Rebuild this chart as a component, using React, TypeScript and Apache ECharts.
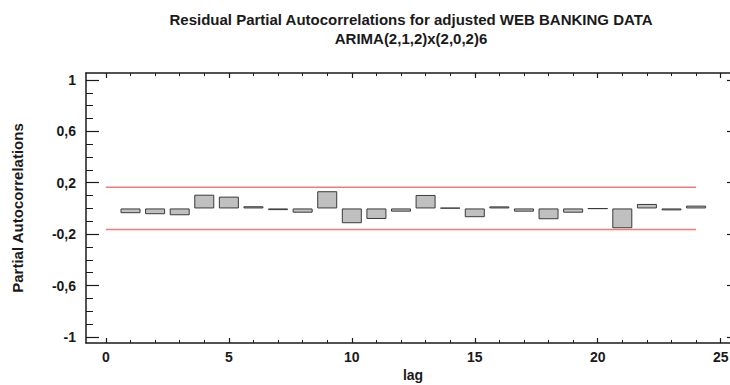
import React, { useEffect, useRef } from "react";
import * as echarts from "echarts";

const lags = [1, 2, 3, 4, 5, 6, 7, 8, 9, 10, 11, 12, 13, 14, 15, 16, 17, 18, 19, 20, 21, 22, 23, 24];
const pacf = [
  -0.037, -0.045, -0.053, 0.107, 0.092, 0.017, -0.013, -0.033, 0.134, -0.115, -0.082, -0.025,
  0.105, 0.005, -0.068, 0.016, -0.025, -0.084, -0.033, -0.002, -0.154, 0.035, -0.015, 0.022,
];
const upperLimit = 0.164;
const lowerLimit = -0.164;
const limitRange = [0, 24];
const xMajorTicks = [0, 5, 10, 15, 20, 25];
const xMinorTicks = [1, 2, 3, 4, 6, 7, 8, 9, 11, 12, 13, 14, 16, 17, 18, 19, 21, 22, 23, 24];
const yMajorTicks = [-1, -0.6, -0.2, 0.2, 0.6, 1];
const yMinorTicks = [-0.9, -0.8, -0.7, -0.5, -0.4, -0.3, -0.1, 0, 0.1, 0.3, 0.4, 0.5, 0.7, 0.8, 0.9];
const titleLines = ["Residual Partial Autocorrelations for adjusted WEB BANKING DATA", "ARIMA(2,1,2)x(2,0,2)6"];
const xName = "lag";
const yName = "Partial Autocorrelations";

const FONT = "'Liberation Sans', Arial, sans-serif";
const INK = "#1a1a1a";

export default function App() {
  const ref = useRef<HTMLDivElement>(null);
  useEffect(() => {
    if (!ref.current) return;
    document.body.style.margin = "0";
    document.body.style.overflow = "hidden";
    const chart = echarts.init(ref.current, undefined, { renderer: "svg" });
    const fmt = (v: number) => String(Math.round(v * 10) / 10).replace(".", ",");
    const xBase = {
      type: "value",
      min: -0.81,
      max: 25.42,
      splitLine: { show: false },
    };
    const yBase = {
      type: "value",
      min: -1.047,
      max: 1.054,
      splitLine: { show: false },
    };
    const option: any = {
      animation: false,
      backgroundColor: "#ffffff",
      grid: { left: 86, top: 73, width: 645, height: 270, containLabel: false, outerBoundsMode: "none" },
      xAxis: [
        {
          ...xBase,
          position: "bottom",
          axisLine: { show: true, onZero: false, lineStyle: { color: INK, width: 1.5 } },
          axisTick: { show: true, inside: true, length: 5, customValues: xMajorTicks, lineStyle: { color: INK, width: 1.2 } },
          axisLabel: {
            show: true,
            customValues: xMajorTicks,
            margin: 7,
            color: INK,
            fontFamily: FONT,
            fontWeight: "bold",
            fontSize: 14,
          },
        },
        {
          ...xBase,
          position: "bottom",
          offset: 0,
          axisLine: { show: false, onZero: false },
          axisTick: { show: true, inside: true, length: 3, customValues: xMinorTicks, lineStyle: { color: INK, width: 1 } },
          axisLabel: { show: false },
        },
        {
          ...xBase,
          position: "top",
          offset: 0,
          axisLine: { show: true, onZero: false, lineStyle: { color: INK, width: 1.5 } },
          axisTick: { show: true, inside: true, length: 5, customValues: xMajorTicks, lineStyle: { color: INK, width: 1.2 } },
          axisLabel: { show: false },
        },
        {
          ...xBase,
          position: "top",
          offset: 0,
          axisLine: { show: false, onZero: false },
          axisTick: { show: true, inside: true, length: 3, customValues: xMinorTicks, lineStyle: { color: INK, width: 1 } },
          axisLabel: { show: false },
        },
      ],
      yAxis: [
        {
          ...yBase,
          position: "left",
          axisLine: { show: true, onZero: false, lineStyle: { color: INK, width: 1.5 } },
          axisTick: { show: true, inside: true, length: 13, customValues: yMajorTicks, lineStyle: { color: INK, width: 1.2 } },
          axisLabel: {
            show: true,
            customValues: yMajorTicks,
            formatter: (v: number) => fmt(v),
            margin: 10,
            color: INK,
            fontFamily: FONT,
            fontWeight: "bold",
            fontSize: 14,
          },
        },
        {
          ...yBase,
          position: "left",
          offset: 0,
          axisLine: { show: false, onZero: false },
          axisTick: { show: true, inside: true, length: 7, customValues: yMinorTicks, lineStyle: { color: INK, width: 1 } },
          axisLabel: { show: false },
        },
        {
          ...yBase,
          position: "right",
          offset: 0,
          axisLine: { show: true, onZero: false, lineStyle: { color: INK, width: 1.5 } },
          axisTick: { show: true, inside: true, length: 4, customValues: yMajorTicks, lineStyle: { color: INK, width: 1.2 } },
          axisLabel: { show: false },
        },
      ],
      series: [
        {
          type: "bar",
          xAxisIndex: 0,
          yAxisIndex: 0,
          barWidth: 20,
          data: lags.map((l, i) => [l, pacf[i]]),
          itemStyle: { color: "#c0c0c0", borderColor: "#3a3a3a", borderWidth: 1 },
          silent: true,
        },
        {
          type: "line",
          xAxisIndex: 0,
          yAxisIndex: 0,
          symbol: "none",
          data: limitRange.map((x) => [x, upperLimit]),
          lineStyle: { color: "#f07a7a", width: 1.5 },
          silent: true,
        },
        {
          type: "line",
          xAxisIndex: 0,
          yAxisIndex: 0,
          symbol: "none",
          data: limitRange.map((x) => [x, lowerLimit]),
          lineStyle: { color: "#f07a7a", width: 1.5 },
          silent: true,
        },
      ],
      graphic: [
        {
          type: "text",
          x: 411,
          y: 19,
          style: {
            text: titleLines[0],
            align: "center",
            verticalAlign: "middle",
            fill: INK,
            font: `bold 15px ${FONT}`,
          },
        },
        {
          type: "text",
          x: 411,
          y: 38,
          style: {
            text: titleLines[1],
            align: "center",
            verticalAlign: "middle",
            fill: INK,
            font: `bold 15px ${FONT}`,
          },
        },
        {
          type: "text",
          x: 413,
          y: 375,
          style: {
            text: xName,
            align: "center",
            verticalAlign: "middle",
            fill: INK,
            font: `bold 14px ${FONT}`,
          },
        },
        {
          type: "text",
          x: 17,
          y: 208,
          rotation: Math.PI / 2,
          style: {
            text: yName,
            align: "center",
            verticalAlign: "middle",
            fill: INK,
            font: `bold 15px ${FONT}`,
          },
        },
      ],
    };
    chart.setOption(option);
    return () => chart.dispose();
  }, []);
  return <div ref={ref} style={{ position: "fixed", left: 0, top: 0, width: 730, height: 385 }} />;
}
